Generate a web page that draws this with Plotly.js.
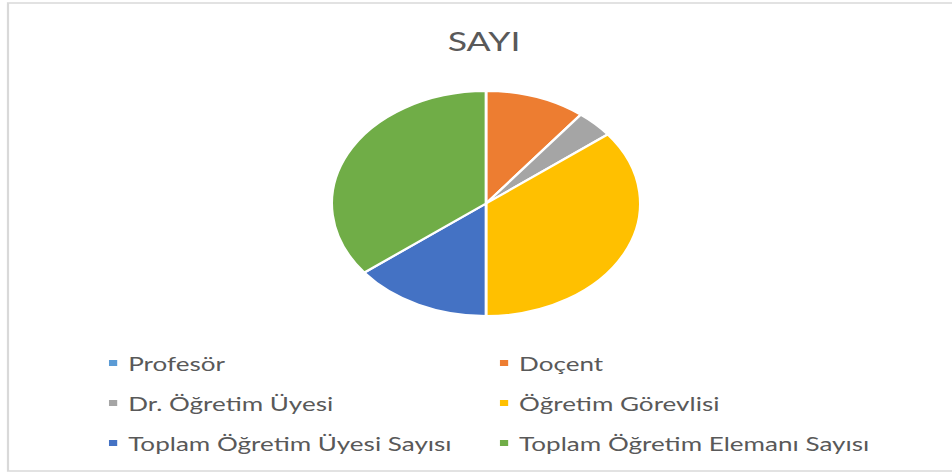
<!DOCTYPE html>
<html><head><meta charset="utf-8">
<script src="https://cdn.plot.ly/plotly-3.0.1.min.js"></script>
<style>
html,body{margin:0;padding:0;background:#fff;overflow:hidden;}
#wrap{width:952px;height:473px;overflow:hidden;position:relative;}
#chart{width:694px;height:473px;transform:scaleX(1.3718);transform-origin:0 0;}
.legend .legendpoints path{transform:translate(29px,3.5px) scale(0.6);}
.legend g, .legend .scrollbox{clip-path:none !important;}
</style></head><body>
<div id="wrap"><div id="chart"></div></div>
<script>
const chartTitle = 'SAYI';
const categories = ['Profesör', 'Doçent', 'Dr. Öğretim Üyesi', 'Öğretim Görevlisi', 'Toplam Öğretim Üyesi Sayısı', 'Toplam Öğretim Elemanı Sayısı'];
const values = [0, 8, 3, 27, 11, 27];
const sliceColors = ['#5B9BD5', '#ED7D31', '#A5A5A5', '#FFC000', '#4472C4', '#70AD47'];

const W = 694, H = 473;
const labelHtml = categories.map(c => "<span style='font-size:19px'>" + c + "</span>");

const trace = {
  type: 'pie',
  labels: labelHtml,
  values: values,
  sort: false,
  direction: 'clockwise',
  rotation: 0,
  textinfo: 'none',
  hoverinfo: 'label+value+percent',
  marker: {colors: sliceColors, line: {color: '#FFFFFF', width: 2}},
  domain: {x: [0.3484, 0.6726], y: [0.3319, 0.8076]}
};

const layout = {
  width: W, height: H,
  margin: {l: 0, r: 0, t: 0, b: 0, pad: 0},
  paper_bgcolor: '#FFFFFF',
  font: {family: 'Lato, sans-serif', color: '#595959'},
  title: {text: chartTitle, font: {family: 'Lato, sans-serif', size: 26, color: '#595959'},
          xref: 'paper', yref: 'paper', x: 0.5084, y: 0.911, xanchor: 'center', yanchor: 'middle'},
  showlegend: true,
  legend: {orientation: 'h', xref: 'paper', yref: 'paper', x: 0.077, y: 0.293,
           xanchor: 'left', yanchor: 'top', entrywidth: 240, entrywidthmode: 'pixels',
           traceorder: 'normal', font: {family: 'Lato, sans-serif', size: 28.5, color: '#595959'},
           bgcolor: 'rgba(0,0,0,0)'},
  shapes: [{type: 'rect', xref: 'paper', yref: 'paper', x0: 0.0084, x1: 1.05, y0: 0.0042, y1: 0.9937,
            line: {color: '#D9D9D9', width: 1.6}, fillcolor: 'rgba(0,0,0,0)', layer: 'below'}]
};

Plotly.newPlot('chart', [trace], layout, {displayModeBar: false, responsive: false, staticPlot: true});
</script>
</body></html>
